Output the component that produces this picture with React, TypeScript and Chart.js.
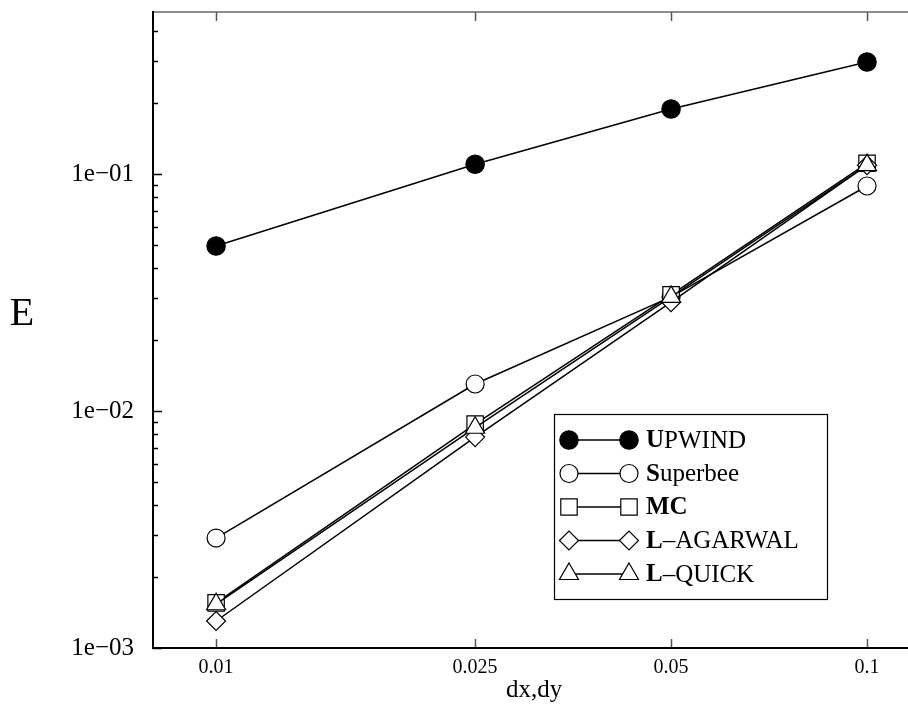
import React, { useEffect, useRef } from "react";
import { Chart, registerables } from "chart.js";

Chart.register(...registerables);

const xValues = [0.01, 0.025, 0.05, 0.1];
const xTickValues = [0.01, 0.025, 0.05, 0.1];
const xTickLabels = ["0.01", "0.025", "0.05", "0.1"];
const yTickValues = [0.001, 0.01, 0.1];
const yTickLabels = ["1e\u221203", "1e\u221202", "1e\u221201"];

const upwind = [0.0497, 0.11, 0.188, 0.297];
const superbee = [0.00291, 0.013, 0.0303, 0.089];
const mc = [0.00155, 0.00881, 0.0309, 0.111];
const lAgarwal = [0.0013, 0.00776, 0.0288, 0.109];
const lQuick = [0.00153, 0.0085, 0.0303, 0.109];

const seriesNames = ["UPWIND", "Superbee", "MC", "L\u2013AGARWAL", "L\u2013QUICK"];
const boldParts = ["U", "S", "MC", "L", "L"];

const SERIF = "'Liberation Serif', 'Times New Roman', serif";

function drawShape(ctx: CanvasRenderingContext2D, style: string, x: number, y: number, r: number) {
  ctx.beginPath();
  if (style === "circle") {
    ctx.arc(x, y, r, 0, Math.PI * 2);
  } else if (style === "rect") {
    const s = Math.SQRT1_2 * r;
    ctx.rect(x - s, y - s, 2 * s, 2 * s);
  } else if (style === "rectRot") {
    ctx.moveTo(x - r, y);
    ctx.lineTo(x, y - r);
    ctx.lineTo(x + r, y);
    ctx.lineTo(x, y + r);
    ctx.closePath();
  } else if (style === "triangle") {
    let rad = 0;
    ctx.moveTo(x + Math.sin(rad) * r, y - Math.cos(rad) * r);
    rad += (2 * Math.PI) / 3;
    ctx.lineTo(x + Math.sin(rad) * r, y - Math.cos(rad) * r);
    rad += (2 * Math.PI) / 3;
    ctx.lineTo(x + Math.sin(rad) * r, y - Math.cos(rad) * r);
    ctx.closePath();
  }
}

const framePlugin = {
  id: "framePlugin",
  beforeDatasetsDraw(chart: any) {
    const ctx = chart.ctx as CanvasRenderingContext2D;
    const { left, right, top, bottom } = chart.chartArea;
    const xs = chart.scales.x;
    const ys = chart.scales.y;
    ctx.save();
    ctx.strokeStyle = "#000";
    ctx.lineWidth = 1.5;
    for (let e = -3; e <= 0; e++) {
      for (let m = 1; m <= 9; m++) {
        const v = m * Math.pow(10, e);
        const py = ys.getPixelForValue(v);
        if (py < top - 0.5 || py > bottom + 0.5) continue;
        const len = m === 1 ? 9 : 5;
        ctx.beginPath();
        ctx.moveTo(left, Math.round(py) + 0.5);
        ctx.lineTo(left + len, Math.round(py) + 0.5);
        ctx.stroke();
      }
    }
    ctx.strokeStyle = "#555";
    ctx.lineWidth = 1.5;
    for (const v of xTickValues) {
      const px = Math.round(xs.getPixelForValue(v)) + 0.5;
      ctx.beginPath();
      ctx.moveTo(px, bottom);
      ctx.lineTo(px, bottom - 9);
      ctx.moveTo(px, top);
      ctx.lineTo(px, top + 9);
      ctx.stroke();
    }
    ctx.strokeStyle = "#666";
    ctx.lineWidth = 1.5;
    ctx.beginPath();
    ctx.moveTo(left, top);
    ctx.lineTo(right, top);
    ctx.stroke();
    ctx.strokeStyle = "#000";
    ctx.lineWidth = 2;
    ctx.beginPath();
    ctx.moveTo(left, top - 1);
    ctx.lineTo(left, bottom);
    ctx.lineTo(right, bottom);
    ctx.stroke();
    ctx.restore();
  },
  afterDraw(chart: any) {
    const ctx = chart.ctx as CanvasRenderingContext2D;
    ctx.save();
    ctx.fillStyle = "#000";
    ctx.font = `40px ${SERIF}`;
    ctx.textAlign = "center";
    ctx.textBaseline = "middle";
    ctx.fillText("E", 22, 314);
    ctx.font = `25px ${SERIF}`;
    ctx.fillText("dx,dy", 534, 690);

    const bx = 554, by = 414, bw = 273, bh = 185;
    ctx.fillStyle = "#fff";
    ctx.fillRect(bx, by, bw, bh);
    ctx.strokeStyle = "#000";
    ctx.lineWidth = 1.2;
    ctx.strokeRect(bx + 0.5, by + 0.5, bw, bh);
    const ds = chart.data.datasets;
    for (let i = 0; i < ds.length; i++) {
      const d = ds[i];
      const cy = 440 + i * 33.5;
      ctx.strokeStyle = "#000";
      ctx.lineWidth = 1.5;
      ctx.beginPath();
      ctx.moveTo(569, cy);
      ctx.lineTo(629, cy);
      ctx.stroke();
      for (const cx of [569, 629]) {
        drawShape(ctx, d.pointStyle, cx, cy, d.pointRadius);
        ctx.fillStyle = d.pointBackgroundColor;
        ctx.fill();
        ctx.lineWidth = 1.2;
        ctx.strokeStyle = "#000";
        ctx.stroke();
      }
      const name = seriesNames[i];
      const b = boldParts[i];
      ctx.fillStyle = "#000";
      ctx.textAlign = "left";
      ctx.textBaseline = "middle";
      ctx.font = `bold 25px ${SERIF}`;
      ctx.fillText(b, 646, cy + 1);
      const w = ctx.measureText(b).width;
      ctx.font = `25px ${SERIF}`;
      ctx.fillText(name.slice(b.length), 646 + w, cy + 1);
    }
    ctx.restore();
  },
};

export default function App() {
  const ref = useRef<HTMLCanvasElement | null>(null);
  useEffect(() => {
    if (!ref.current) return;
    const mk = (label: string, data: number[], style: string, r: number, fill: string, order: number) => ({
      label,
      data: data.map((y, i) => ({ x: xValues[i], y })),
      borderColor: "#000",
      borderWidth: 1.5,
      pointStyle: style,
      pointRadius: r,
      pointHoverRadius: r,
      pointBackgroundColor: fill,
      pointBorderColor: "#000",
      pointBorderWidth: 1.2,
      fill: false,
      tension: 0,
      order,
    });
    const zeroPad = (s: any) => {
      s.paddingTop = 0;
      s.paddingBottom = 0;
      s.paddingLeft = 0;
      s.paddingRight = 0;
    };
    const chart = new Chart(ref.current, {
      type: "line",
      data: {
        datasets: [
          mk(seriesNames[0], upwind, "circle", 9.2, "#000", 4),
          mk(seriesNames[1], superbee, "circle", 9, "#fff", 3),
          mk(seriesNames[2], mc, "rect", 11.6, "#fff", 2),
          mk(seriesNames[3], lAgarwal, "rectRot", 9.5, "#fff", 1),
          mk(seriesNames[4], lQuick, "triangle", 11, "#fff", 0),
        ] as any,
      },
      options: {
        animation: false,
        responsive: false,
        maintainAspectRatio: false,
        layout: { autoPadding: false, padding: { top: 12, right: 0, left: 0, bottom: 0 } },
        plugins: { legend: { display: false }, tooltip: { enabled: false }, title: { display: false } },
        scales: {
          x: {
            type: "logarithmic",
            min: 0.008,
            max: 0.1156,
            border: { display: false },
            grid: { display: false, drawTicks: false, drawOnChartArea: false, tickLength: 0 },
            afterBuildTicks: (s: any) => {
              s.ticks = xTickValues.map((v) => ({ value: v }));
            },
            afterFit: (s: any) => {
              s.height = 57;
              zeroPad(s);
            },
            ticks: {
              autoSkip: false,
              maxRotation: 0,
              padding: 8,
              color: "#000",
              font: { family: SERIF, size: 20 },
              callback: (v: any) => {
                const i = xTickValues.indexOf(Number(v));
                return i >= 0 ? xTickLabels[i] : "";
              },
            },
          },
          y: {
            type: "logarithmic",
            min: 0.001,
            max: 0.4826,
            border: { display: false },
            grid: { display: false, drawTicks: false, drawOnChartArea: false, tickLength: 0 },
            afterBuildTicks: (s: any) => {
              s.ticks = yTickValues.map((v) => ({ value: v }));
            },
            afterFit: (s: any) => {
              s.width = 153;
              zeroPad(s);
            },
            ticks: {
              autoSkip: false,
              padding: 19,
              color: "#000",
              font: { family: SERIF, size: 25 },
              callback: (v: any) => {
                const n = Number(v);
                const i = yTickValues.findIndex((t) => Math.abs(t - n) / t < 1e-6);
                return i >= 0 ? yTickLabels[i] : "";
              },
            },
          },
        },
      },
      plugins: [framePlugin],
    } as any);
    return () => chart.destroy();
  }, []);
  return (
    <div style={{ position: "absolute", left: 0, top: 0, width: 908, height: 705, background: "#fff" }}>
      <canvas ref={ref} width={908} height={705} style={{ display: "block", width: 908, height: 705 }} />
    </div>
  );
}
